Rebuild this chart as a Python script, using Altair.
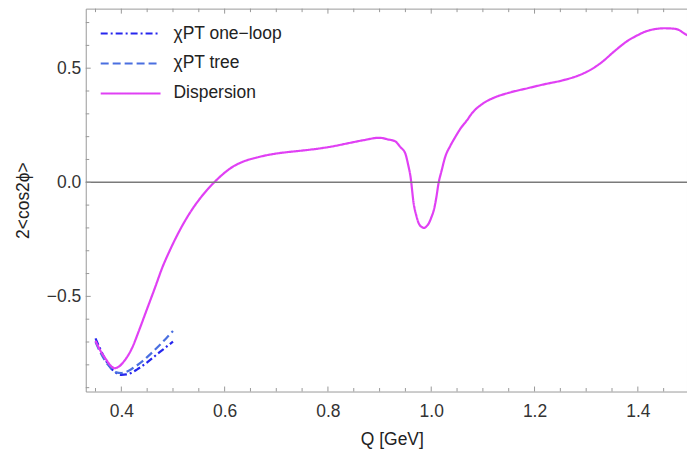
import altair as alt
import pandas as pd

# ---- data ----
disp_q = [0.350, 0.360, 0.370, 0.380, 0.387, 0.395, 0.405, 0.420, 0.435, 0.448,
          0.465, 0.480, 0.493, 0.505, 0.519, 0.535, 0.551, 0.567, 0.583, 0.600,
          0.615, 0.630, 0.648, 0.665, 0.680, 0.700, 0.725, 0.750, 0.789, 0.815,
          0.841, 0.870, 0.899, 0.918, 0.930, 0.940, 0.950, 0.955, 0.960, 0.966,
          0.971, 0.976, 0.981, 0.986, 0.991, 0.995, 1.000, 1.005, 1.010, 1.014,
          1.020, 1.027, 1.037, 1.047, 1.058, 1.069, 1.079, 1.100, 1.124, 1.150,
          1.188, 1.220, 1.253, 1.285, 1.310, 1.330, 1.355, 1.381, 1.400, 1.414,
          1.435, 1.452, 1.465, 1.478, 1.490, 1.500]
disp_v = [-0.695, -0.740, -0.775, -0.805, -0.815, -0.808, -0.785, -0.730, -0.645, -0.566,
          -0.463, -0.370, -0.303, -0.246, -0.186, -0.126, -0.075, -0.031, 0.007, 0.042,
          0.067, 0.085, 0.100, 0.110, 0.118, 0.126, 0.133, 0.139, 0.150, 0.160,
          0.172, 0.185, 0.195, 0.187, 0.180, 0.155, 0.125, 0.080, 0.023, -0.093,
          -0.145, -0.181, -0.195, -0.200, -0.193, -0.181, -0.155, -0.122, -0.065, -0.006,
          0.050, 0.111, 0.160, 0.200, 0.240, 0.271, 0.303, 0.345, 0.373, 0.392,
          0.413, 0.430, 0.446, 0.468, 0.495, 0.526, 0.575, 0.621, 0.645, 0.660,
          0.672, 0.675, 0.674, 0.669, 0.652, 0.640]

chi_q = [0.35, 0.36, 0.37, 0.38, 0.39, 0.40, 0.41, 0.42, 0.43, 0.44,
         0.45, 0.46, 0.47, 0.48, 0.49, 0.50]
loop_v = [-0.684, -0.735, -0.780, -0.815, -0.835, -0.844, -0.842, -0.834, -0.821, -0.806,
          -0.789, -0.771, -0.752, -0.734, -0.716, -0.698]
tree_v = [-0.700, -0.748, -0.787, -0.814, -0.833, -0.836, -0.830, -0.818, -0.803, -0.786,
          -0.766, -0.745, -0.723, -0.700, -0.676, -0.652]

series_names = ["χPT one−loop", "χPT tree", "Dispersion"]
series_colors = ["#2626ee", "#4a6fe0", "#e040f4"]
series_dash = [[7, 3, 2, 3], [8, 4], [1, 0]]

x_label_vals = [0.4, 0.6, 0.8, 1.0, 1.2, 1.4]
x_tick_vals = [round(0.35 + 0.05 * i, 2) for i in range(23)]
y_label_vals = [-0.5, 0.0, 0.5]
y_tick_vals = [round(-0.9 + 0.1 * i, 1) for i in range(17)]
x_major = x_label_vals
y_major = y_label_vals

x_domain = [0.3311, 1.4952]
y_domain = [-0.917, 0.761]

W, H = 603, 384
FONT = "Liberation Sans"

df = pd.concat([
    pd.DataFrame({"q": chi_q, "v": loop_v, "s": series_names[0]}),
    pd.DataFrame({"q": chi_q, "v": tree_v, "s": series_names[1]}),
    pd.DataFrame({"q": disp_q, "v": disp_v, "s": series_names[2]}),
])

xs = alt.Scale(domain=x_domain, nice=False, zero=False)
ys = alt.Scale(domain=y_domain, nice=False, zero=False)

leg = dict(title=None, orient="none", legendX=14, legendY=15,
           symbolType="stroke", symbolSize=3600, symbolStrokeWidth=2,
           labelFont=FONT, labelFontSize=17.5, labelColor="#222", labelOffset=12,
           rowPadding=10, clipHeight=20, padding=0)

color = alt.Color("s:N", scale=alt.Scale(domain=series_names, range=series_colors),
                  legend=alt.Legend(**leg))
dash = alt.StrokeDash("s:N", scale=alt.Scale(domain=series_names, range=series_dash),
                      legend=alt.Legend(**leg))

lines = alt.Chart(df).mark_line(strokeWidth=2.2, interpolate="monotone").encode(
    x=alt.X("q:Q", scale=xs,
            axis=alt.Axis(values=x_label_vals, format=".1f", ticks=False, domain=False,
                          grid=False, labelFont=FONT, labelFontSize=17.5, labelColor="#333",
                          labelPadding=11, title="Q [GeV]", titleFont=FONT,
                          titleFontSize=17.5, titleFontWeight="normal", titleColor="#222",
                          titlePadding=11, titleX=307)),
    y=alt.Y("v:Q", scale=ys,
            axis=alt.Axis(values=y_label_vals, format=".1f", ticks=False, domain=False,
                          grid=False, labelFont=FONT, labelFontSize=17.5, labelColor="#333",
                          labelPadding=5, title="2<cos2ϕ>", titleFont=FONT,
                          titleFontSize=17.5, titleFontWeight="normal", titleColor="#222",
                          titlePadding=14)),
    color=color,
    strokeDash=dash,
    order=alt.Order("q:Q"),
)

zero = alt.Chart(pd.DataFrame({"z": [0.0]})).mark_rule(color="#7a7a7a", strokeWidth=1.5).encode(
    y=alt.Y("z:Q", scale=ys))

tick_color = "#999"
xt = pd.DataFrame({"t": x_tick_vals})
xt["major"] = xt["t"].isin(x_major)
yt = pd.DataFrame({"t": y_tick_vals})
yt["major"] = yt["t"].isin(y_major)

def xticks(major, y0, y1):
    return alt.Chart(xt).transform_filter(alt.datum.major == major).mark_rule(
        color=tick_color, strokeWidth=1).encode(
        x=alt.X("t:Q", scale=xs), y=alt.value(y0), y2=alt.value(y1))

def yticks(major, x0, x1):
    return alt.Chart(yt).transform_filter(alt.datum.major == major).mark_rule(
        color=tick_color, strokeWidth=1).encode(
        y=alt.Y("t:Q", scale=ys), x=alt.value(x0), x2=alt.value(x1))

ticks = [
    xticks(True, H, H - 5), xticks(False, H, H - 3.5),
    xticks(True, 0, 5), xticks(False, 0, 3.5),
    yticks(True, 0, 5), yticks(False, 0, 3.5),
]

chart = alt.layer(lines, zero, *ticks).properties(
    width=W, height=H,
    autosize=alt.AutoSizeParams(type="none"),
    padding={"left": 86, "top": 8, "right": 0, "bottom": 65},
).configure_view(stroke="#9a9a9a", strokeWidth=1)

chart.save("out.html", embed_options={"renderer": "svg", "actions": False})
